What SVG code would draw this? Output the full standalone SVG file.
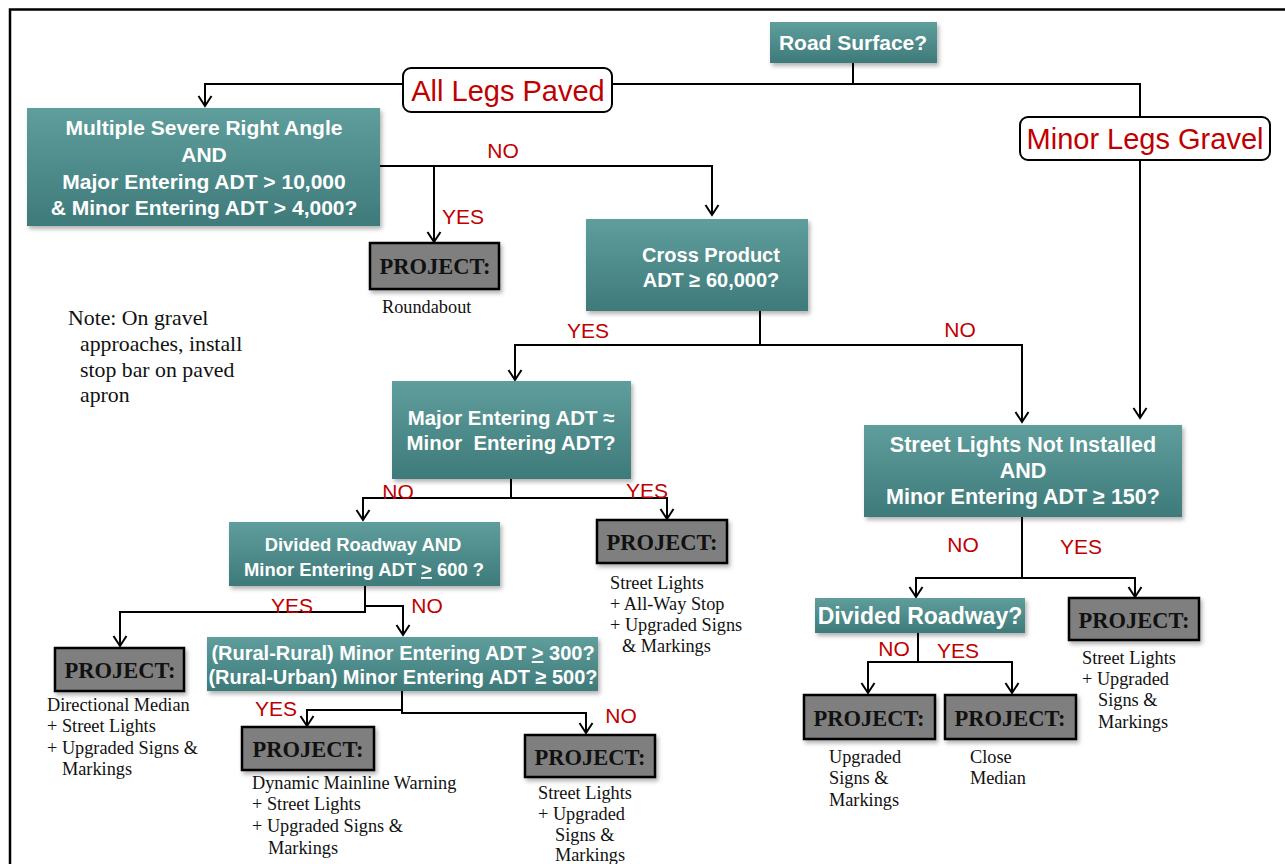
<svg xmlns="http://www.w3.org/2000/svg" width="1285" height="864" viewBox="0 0 1285 864">
<defs>
<linearGradient id="teal" x1="0" y1="0" x2="0" y2="1">
<stop offset="0" stop-color="#5f9e9c"/>
<stop offset="1" stop-color="#3e7a7a"/>
</linearGradient>
<filter id="sh" x="-10%" y="-10%" width="125%" height="135%">
<feDropShadow dx="2" dy="3" stdDeviation="2" flood-color="#000" flood-opacity="0.3"/>
</filter>
<marker id="arr" markerUnits="userSpaceOnUse" markerWidth="20" markerHeight="20" viewBox="-12 -10 20 20" refX="0" refY="0" orient="auto">
<path d="M-10,-6.5 L0,0 L-10,6.5" fill="none" stroke="#000" stroke-width="2"/>
</marker>
<style>
.q{fill:url(#teal);filter:url(#sh)}
.qt{font-family:"Liberation Sans",Arial,sans-serif;font-weight:bold;fill:#fff;text-anchor:middle}
.p{fill:#7f7f7f;stroke:#000;stroke-width:2.5;filter:url(#sh)}
.pt{font-family:"Liberation Serif","Times New Roman",serif;font-weight:bold;font-size:22.5px;fill:#111;text-anchor:middle}
.d{font-family:"Liberation Serif","Times New Roman",serif;font-size:18.3px;fill:#111}
.n{font-family:"Liberation Serif","Times New Roman",serif;font-size:21.8px;fill:#111}
.c{fill:none;stroke:#000;stroke-width:2}
.ca{fill:none;stroke:#000;stroke-width:2;marker-end:url(#arr)}
.lb{font-family:"Liberation Sans",Arial,sans-serif;font-size:21px;fill:#c00000;text-anchor:middle}
.rb{fill:#fff;stroke:#000;stroke-width:2}
.rt{font-family:"Liberation Sans",Arial,sans-serif;font-size:29px;fill:#c00000;text-anchor:middle}
</style>
</defs>
<rect width="1285" height="864" fill="#fff"/>
<path d="M10,864 V9.5 H1285" fill="none" stroke="#000" stroke-width="2.5"/>

<g id="connectors">
<path class="ca" d="M853,63 V84 H205 V106"/>
<path class="c" d="M853,84 H1140 V117"/>
<path class="ca" d="M1140,160 V418"/>
<path class="ca" d="M380,166 H712 V215"/>
<path class="ca" d="M434,166 V242"/>
<path class="ca" d="M760,311 V345 H515 V380"/>
<path class="ca" d="M760,345 H1022 V422"/>
<path class="ca" d="M511,479 V498 H363 V520"/>
<path class="ca" d="M511,498 H667 V519"/>
<path class="ca" d="M365,586 V612 H120 V646"/>
<path class="ca" d="M365,606 H403 V635"/>
<path class="ca" d="M402,691 V710 H307 V726"/>
<path class="ca" d="M402,710 V713 H586 V733"/>
<path class="ca" d="M1022,517 V578 H916 V597"/>
<path class="ca" d="M1022,578 H1135 V597"/>
<path class="ca" d="M918,633 V662 H868 V693"/>
<path class="ca" d="M918,662 H1012 V693"/>
<text class="lb" x="503" y="158">NO</text>
<text class="lb" x="463" y="224">YES</text>
<text class="lb" x="588" y="338">YES</text>
<text class="lb" x="960" y="337">NO</text>
<text class="lb" x="398" y="499">NO</text>
<text class="lb" x="647" y="498">YES</text>
<text class="lb" x="292" y="613">YES</text>
<text class="lb" x="427" y="613">NO</text>
<text class="lb" x="276" y="716">YES</text>
<text class="lb" x="621" y="723">NO</text>
<text class="lb" x="963" y="552">NO</text>
<text class="lb" x="1081" y="554">YES</text>
<text class="lb" x="894" y="656">NO</text>
<text class="lb" x="958" y="658">YES</text>
</g>

<g id="road-surface">
<rect class="q" x="770" y="22" width="167" height="41"/>
<text class="qt" x="853" y="50" font-size="21">Road Surface?</text>
</g>

<g id="all-legs-paved">
<rect class="rb" x="403" y="68" width="209" height="44" rx="8"/>
<text class="rt" x="508" y="101">All Legs Paved</text>
</g>

<g id="minor-legs-gravel">
<rect class="rb" x="1020" y="117" width="250" height="43" rx="8"/>
<text class="rt" x="1145" y="149">Minor Legs Gravel</text>
</g>

<g id="severe-right-angle" font-size="21">
<rect class="q" x="27" y="108" width="353" height="118"/>
<text class="qt" x="204" y="135">Multiple Severe Right Angle</text>
<text class="qt" x="204" y="162">AND</text>
<text class="qt" x="204" y="189">Major Entering ADT &gt; 10,000</text>
<text class="qt" x="204" y="215">&amp; Minor Entering ADT &gt; 4,000?</text>
</g>

<g id="project-roundabout">
<rect class="p" x="370" y="243" width="129" height="46"/>
<text class="pt" x="435" y="274">PROJECT:</text>
<text class="d" x="382" y="313">Roundabout</text>
</g>

<g id="note">
<text class="n" x="68" y="325">Note: On gravel</text>
<text class="n" x="80" y="351">approaches, install</text>
<text class="n" x="80" y="377">stop bar on paved</text>
<text class="n" x="80" y="402">apron</text>
</g>

<g id="cross-product" font-size="20">
<rect class="q" x="586" y="219" width="222" height="92"/>
<text class="qt" x="711" y="262">Cross Product</text>
<text class="qt" x="711" y="287">ADT ≥ 60,000?</text>
</g>

<g id="major-minor" font-size="20.4">
<rect class="q" x="392" y="381" width="239" height="98"/>
<text class="qt" x="511" y="425">Major Entering ADT ≈</text>
<text class="qt" x="511" y="450" xml:space="preserve">Minor  Entering ADT?</text>
</g>

<g id="street-lights-not-installed" font-size="21.5">
<rect class="q" x="864" y="425" width="318" height="92"/>
<text class="qt" x="1023" y="452">Street Lights Not Installed</text>
<text class="qt" x="1023" y="478">AND</text>
<text class="qt" x="1023" y="504">Minor Entering ADT ≥ 150?</text>
</g>

<g id="divided-and" font-size="18.4">
<rect class="q" x="229" y="522" width="271" height="64"/>
<text class="qt" x="363" y="551">Divided Roadway AND</text>
<text class="qt" x="364" y="576">Minor Entering ADT <tspan text-decoration="underline">&gt;</tspan> 600 ?</text>
</g>

<g id="project-all-way-stop">
<rect class="p" x="597" y="520" width="130" height="43"/>
<text class="pt" x="662" y="550">PROJECT:</text>
<text class="d" x="610" y="589">Street Lights</text>
<text class="d" x="610" y="610">+ All-Way Stop</text>
<text class="d" x="610" y="631">+ Upgraded Signs</text>
<text class="d" x="622" y="652">&amp; Markings</text>
</g>

<g id="project-directional-median">
<rect class="p" x="55" y="648" width="129" height="43"/>
<text class="pt" x="120" y="678">PROJECT:</text>
<text class="d" x="47" y="711">Directional Median</text>
<text class="d" x="47" y="732">+ Street Lights</text>
<text class="d" x="47" y="754">+ Upgraded Signs &amp;</text>
<text class="d" x="62" y="775">Markings</text>
</g>

<g id="rural" font-size="20">
<rect class="q" x="207" y="637" width="391" height="54"/>
<text class="qt" x="403" y="660">(Rural-Rural) Minor Entering ADT <tspan text-decoration="underline">&gt;</tspan> 300?</text>
<text class="qt" x="403" y="684">(Rural-Urban) Minor Entering ADT ≥ 500?</text>
</g>

<g id="project-dynamic">
<rect class="p" x="242" y="727" width="132" height="43"/>
<text class="pt" x="308" y="757">PROJECT:</text>
<text class="d" x="252" y="789">Dynamic Mainline Warning</text>
<text class="d" x="252" y="810">+ Street Lights</text>
<text class="d" x="252" y="832">+ Upgraded Signs &amp;</text>
<text class="d" x="268" y="854">Markings</text>
</g>

<g id="project-street-lights-mid">
<rect class="p" x="525" y="735" width="130" height="42"/>
<text class="pt" x="590" y="765">PROJECT:</text>
<text class="d" x="538" y="799">Street Lights</text>
<text class="d" x="538" y="820">+ Upgraded</text>
<text class="d" x="555" y="841">Signs &amp;</text>
<text class="d" x="555" y="861">Markings</text>
</g>

<g id="divided-roadway">
<rect class="q" x="815" y="598" width="210" height="35"/>
<text class="qt" x="920" y="624" font-size="23">Divided Roadway?</text>
</g>

<g id="project-street-lights-right">
<rect class="p" x="1069" y="598" width="130" height="42"/>
<text class="pt" x="1134" y="628">PROJECT:</text>
<text class="d" x="1082" y="664">Street Lights</text>
<text class="d" x="1082" y="685">+ Upgraded</text>
<text class="d" x="1098" y="706">Signs &amp;</text>
<text class="d" x="1098" y="728">Markings</text>
</g>

<g id="project-upgraded">
<rect class="p" x="804" y="695" width="131" height="44"/>
<text class="pt" x="869" y="726">PROJECT:</text>
<text class="d" x="829" y="763">Upgraded</text>
<text class="d" x="829" y="784">Signs &amp;</text>
<text class="d" x="829" y="806">Markings</text>
</g>

<g id="project-close-median">
<rect class="p" x="945" y="695" width="131" height="44"/>
<text class="pt" x="1010" y="726">PROJECT:</text>
<text class="d" x="970" y="763">Close</text>
<text class="d" x="970" y="784">Median</text>
</g>
</svg>
